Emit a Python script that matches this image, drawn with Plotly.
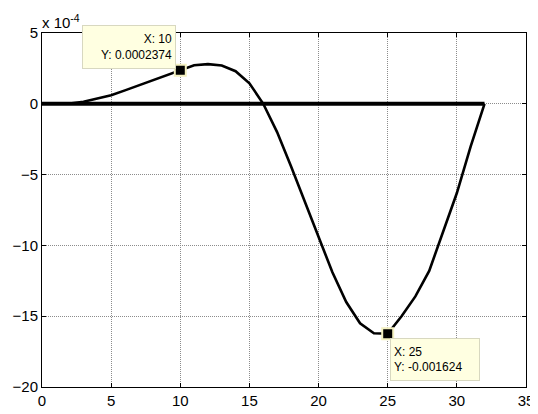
import plotly.graph_objects as go

# Data (y in units of 1e-4)
x_vals = list(range(0, 33))
y_vals = [0.0, 0.0, 0.02, 0.15, 0.35, 0.6, 0.95, 1.3, 1.7, 2.05, 2.374,
          2.72, 2.8, 2.7, 2.3, 1.45, 0.0, -2.0, -4.4, -6.9, -9.4, -11.9,
          -14.0, -15.5, -16.2, -16.24, -15.0, -13.6, -11.8, -9.1, -6.3, -3.0, 0.0]
return_x = [32, 0]
return_y = [0.0, 0.0]

tip_x = [10, 25]
tip_y = [2.374, -16.24]
tip_labels = ["X: 10<br>Y: 0.0002374", "X: 25<br>Y: -0.001624"]

x_ticks = [0, 5, 10, 15, 20, 25, 30, 35]
y_ticks = [-20, -15, -10, -5, 0, 5]

FONT = "Liberation Sans, Arial, sans-serif"
PAGE_OFFSET = 8  # default body margin of the page

fig = go.Figure()
fig.add_trace(go.Scatter(x=return_x, y=return_y, mode="lines",
                         line=dict(color="black", width=4), showlegend=False))
fig.add_trace(go.Scatter(x=x_vals, y=y_vals, mode="lines",
                         line=dict(color="black", width=2.6), showlegend=False))
fig.add_trace(go.Scatter(x=tip_x, y=tip_y, mode="markers",
                         marker=dict(symbol="square", size=11, color="black",
                                     line=dict(color="#f3f0c0", width=2)),
                         showlegend=False))

axis_common = dict(
    showline=True, linecolor="black", linewidth=1, mirror="ticks",
    ticks="inside", ticklen=4, tickcolor="black",
    showgrid=True, gridcolor="#8c8c8c", gridwidth=1, griddash="1px,1px",
    zeroline=False, automargin=False,
    tickfont=dict(family=FONT, size=15, color="black"),
)

fig.update_xaxes(range=[0, 35], tickvals=x_ticks, **axis_common)
fig.update_yaxes(range=[-20, 5], tickvals=y_ticks, **axis_common)

# data tips
fig.add_annotation(x=tip_x[0], y=tip_y[0], xref="x", yref="y", text=tip_labels[0],
                   showarrow=False, xanchor="right", yanchor="bottom",
                   xshift=-4, yshift=1, align="right",
                   font=dict(family=FONT, size=12, color="black"),
                   bgcolor="#ffffe1", bordercolor="#d8d8c0", borderwidth=1,
                   borderpad=3, width=86, height=36)
fig.add_annotation(x=tip_x[1], y=tip_y[1], xref="x", yref="y", text=tip_labels[1],
                   showarrow=False, xanchor="left", yanchor="top",
                   xshift=2, yshift=-4, align="left",
                   font=dict(family=FONT, size=12, color="black"),
                   bgcolor="#ffffe1", bordercolor="#d8d8c0", borderwidth=1,
                   borderpad=3, width=82, height=35)

# exponent label
fig.add_annotation(x=0, y=1, xref="paper", yref="paper", text="x 10<sup>-4</sup>",
                   showarrow=False, xanchor="left", yanchor="bottom",
                   xshift=-2, yshift=0,
                   font=dict(family=FONT, size=15, color="black"))

fig.update_layout(
    width=538 - PAGE_OFFSET, height=414 - PAGE_OFFSET,
    margin=dict(l=42 - PAGE_OFFSET, r=12, t=33 - PAGE_OFFSET, b=27),
    paper_bgcolor="white", plot_bgcolor="white",
    showlegend=False,
)

fig.write_html("out.html")
